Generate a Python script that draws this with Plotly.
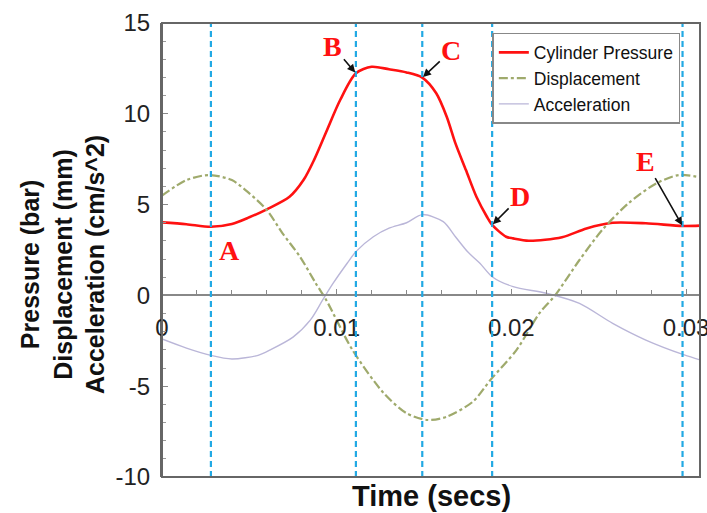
import plotly.graph_objects as go

# ---- data ----
t_pressure = [0, 0.0014, 0.0028, 0.004, 0.005, 0.006, 0.0073, 0.0081, 0.0087, 0.0094, 0.0102,
              0.0111, 0.012, 0.013, 0.014, 0.0149, 0.0157, 0.0163, 0.0168, 0.0174, 0.018,
              0.0186, 0.0189, 0.0197, 0.0201, 0.021, 0.0229, 0.0243, 0.0258, 0.0277, 0.0298, 0.0308]
pressure = [4.02, 3.92, 3.78, 3.93, 4.3, 4.74, 5.43, 6.35, 7.45, 9.0, 10.76,
            12.23, 12.59, 12.45, 12.28, 11.99, 11.13, 9.84, 8.37, 6.9, 5.43,
            4.33, 3.88, 3.23, 3.14, 3.01, 3.2, 3.69, 4.0, 3.97, 3.82, 3.84]

t_disp = [0, 0.0014, 0.0027, 0.004, 0.005, 0.006, 0.0069, 0.0079, 0.0088, 0.0094, 0.0109,
          0.0127, 0.014, 0.0152, 0.0163, 0.0178, 0.0188, 0.0203, 0.0216, 0.0225, 0.0239,
          0.0252, 0.0267, 0.0283, 0.0296, 0.0308]
displacement = [5.5, 6.35, 6.63, 6.35, 5.62, 4.7, 3.42, 2.13, 0.67, -0.25, -3.0,
                -5.39, -6.49, -6.86, -6.68, -5.85, -4.66, -3.0, -0.99, 0.0, 1.95,
                3.6, 5.07, 6.17, 6.63, 6.5]

t_acc = [0, 0.0014, 0.0028, 0.004, 0.0055, 0.0062, 0.0075, 0.0085, 0.0092, 0.0098, 0.0106,
         0.0111, 0.0121, 0.013, 0.014, 0.0149, 0.0161, 0.0168, 0.0175, 0.0182, 0.0189,
         0.0201, 0.022, 0.0239, 0.0258, 0.0277, 0.0299, 0.0308]
acceleration = [-2.4, -2.9, -3.3, -3.5, -3.3, -3.0, -2.3, -1.35, -0.25, 0.67, 1.77,
                2.41, 3.23, 3.7, 4.0, 4.45, 4.06, 3.23, 2.4, 1.77, 1.03,
                0.48, 0.12, -0.44, -1.54, -2.46, -3.28, -3.55]

marker_labels = ["A", "B", "C", "D", "E"]
marker_times = [0.0028, 0.0111, 0.0149, 0.0189, 0.0298]
marker_values = [3.78, 12.23, 11.99, 3.88, 3.82]
label_offsets = [(19, 24), (-23, -27), (29, -27), (28, -28), (-37, -65)]

x_ticks = [0, 0.01, 0.02, 0.03]
x_tick_text = ["0", "0.01", "0.02", "0.03"]
y_ticks = [-10, -5, 0, 5, 10, 15]
y_tick_text = ["-10", "-5", "0", "5", "10", "15"]

FONT = "Arial, 'Liberation Sans', sans-serif"

fig = go.Figure()
fig.add_trace(go.Scatter(x=t_pressure, y=pressure, mode="lines", name="Cylinder Pressure",
                         line=dict(color="#FF1111", width=2.6, shape="spline", smoothing=0.8)))
fig.add_trace(go.Scatter(x=t_disp, y=displacement, mode="lines", name="Displacement",
                         line=dict(color="#9FAA6C", width=2.2, dash="dashdot", shape="spline", smoothing=0.8)))
fig.add_trace(go.Scatter(x=t_acc, y=acceleration, mode="lines", name="Acceleration",
                         line=dict(color="#BAB6D8", width=1.4, shape="spline", smoothing=0.8)))

for tm in marker_times:
    fig.add_shape(type="line", xref="x", yref="paper", x0=tm, x1=tm, y0=0, y1=1,
                  line=dict(color="#22A9E4", width=2.2, dash="6px,4px"), layer="above")

for lab, tm, val, (ax, ay) in zip(marker_labels, marker_times, marker_values, label_offsets):
    fig.add_annotation(x=tm, y=val, text="<b>%s</b>" % lab, showarrow=True,
                       ax=ax, ay=ay, arrowhead=2, arrowsize=1, arrowwidth=1.6,
                       arrowcolor="#111111", standoff=1,
                       font=dict(family="'Times New Roman', 'Liberation Serif', serif",
                                 size=28, color="#FF1111"))

# frame
fig.add_shape(type="rect", xref="paper", yref="paper", x0=0, x1=1, y0=0, y1=1,
              line=dict(color="#666666", width=2), layer="above")

# y-axis title
fig.add_annotation(xref="paper", yref="paper", x=-0.184, y=0.467, showarrow=False,
                   textangle=-90, xanchor="center", yanchor="middle",
                   text="<b>Pressure (bar)<br>Displacement (mm)<br>Acceleration (cm/s^2)</b>",
                   font=dict(family=FONT, size=25, color="#111111"))
# x-axis title
fig.add_annotation(xref="paper", yref="paper", x=0.5, y=0.0, yshift=-19, showarrow=False,
                   xanchor="center", yanchor="middle",
                   text="<b>Time (secs)</b>",
                   font=dict(family=FONT, size=29, color="#111111"))

fig.update_layout(
    width=707, height=513,
    margin=dict(l=162, r=7, t=23, b=36, autoexpand=False),
    paper_bgcolor="white", plot_bgcolor="white",
    showlegend=True,
    legend=dict(x=0.614, y=0.978, xanchor="left", yanchor="top",
                bgcolor="white", bordercolor="#888888", borderwidth=1.5,
                font=dict(family=FONT, size=17.5, color="#111111"),
                itemwidth=30, tracegroupgap=0),
    xaxis=dict(range=[0, 0.0308], anchor="free", position=0.4, automargin=False,
               showgrid=False, zeroline=False, showline=True, linecolor="#888888", linewidth=1.5,
               tickvals=x_ticks, ticktext=x_tick_text, ticks="inside", ticklen=6,
               tickcolor="#888888",
               minor=dict(dtick=0.002, tick0=0, ticks="inside", ticklen=5, tickcolor="#888888"),
               tickfont=dict(family=FONT, size=24, color="#222222"),
               ticklabelstandoff=11, ticklabeloverflow="allow"),
    yaxis=dict(range=[-10, 15], domain=[0, 1], automargin=False,
               showgrid=False, zeroline=False, showline=True, linecolor="#666666", linewidth=2,
               tickvals=y_ticks, ticktext=y_tick_text, ticks="inside", ticklen=6, tickcolor="#888888",
               minor=dict(dtick=1, tick0=0, ticks="inside", ticklen=4, tickcolor="#999999"),
               tickfont=dict(family=FONT, size=24, color="#222222"),
               ticklabelstandoff=5),
)

fig.write_html("out.html")
